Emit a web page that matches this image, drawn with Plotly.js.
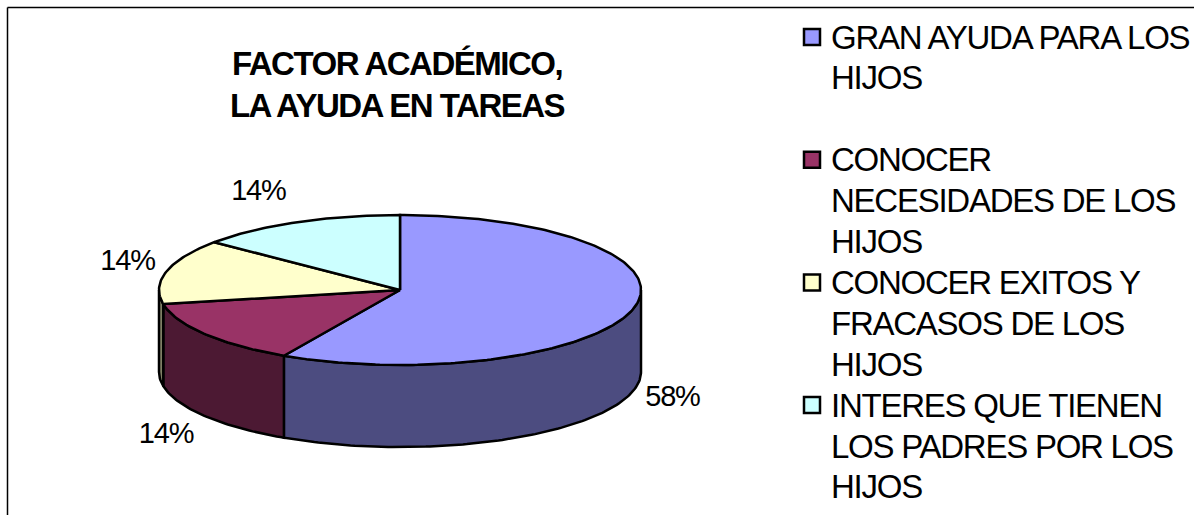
<!DOCTYPE html>
<html>
<head>
<meta charset="utf-8">
<script src="https://cdn.plot.ly/plotly-3.0.1.min.js"></script>
<style>
html,body{margin:0;padding:0;background:#fff;}
#chart{width:1194px;height:515px;}
#chart .annotation-text{letter-spacing:-1.25px;}
#chart .gtitle{letter-spacing:-1.5px;}
#chart .textpoint text{letter-spacing:-1.2px;}
</style>
</head>
<body>
<div id="chart"></div>
<script>
// ---- data ----
const categories = [
  "GRAN AYUDA PARA LOS<br>HIJOS",
  "CONOCER<br>NECESIDADES DE LOS<br>HIJOS",
  "CONOCER EXITOS Y<br>FRACASOS DE LOS<br>HIJOS",
  "INTERES QUE TIENEN<br>LOS PADRES POR LOS<br>HIJOS"
];
const values = [58, 14, 14, 14];
const topColors = ["#9999FF", "#993366", "#FFFFCC", "#CCFFFF"];
const sideColors = ["#4C4C80", "#4C1933", "#808066", "#668080"];
const chartTitle = "FACTOR ACADÉMICO,<br>LA AYUDA EN TAREAS";

// ---- geometry (layout) ----
const W = 1194, H = 515;
const cx = 400, cy = 290, rx = 241, ry = 75, depth = 82;
const FONT = "Liberation Sans, Arial, sans-serif";

function pt(t, dz) { return [cx + rx * Math.sin(t), cy - ry * Math.cos(t) + (dz || 0)]; }
function arc(a, b, dz) {
  const n = Math.max(2, Math.ceil((b - a) / (Math.PI / 180)));
  const xs = [], ys = [];
  for (let i = 0; i <= n; i++) { const p = pt(a + (b - a) * i / n, dz); xs.push(p[0]); ys.push(p[1]); }
  return [xs, ys];
}

const total = values.reduce((s, v) => s + v, 0);
const angles = [];
let acc = 0;
values.forEach(v => { const a = acc / total * 2 * Math.PI; acc += v; angles.push([a, acc / total * 2 * Math.PI]); });

const traces = [];
// side walls (front half only)
angles.forEach(([a, b], i) => {
  const s = Math.max(a, Math.PI / 2), e = Math.min(b, 3 * Math.PI / 2);
  if (e <= s) return;
  const [tx, ty] = arc(s, e, 0);
  const [bx, by] = arc(s, e, depth);
  const xs = tx.concat(bx.slice().reverse(), [tx[0]]);
  const ys = ty.concat(by.slice().reverse(), [ty[0]]);
  traces.push({ type: "scatter", mode: "lines", x: xs, y: ys, fill: "toself", fillcolor: sideColors[i],
    line: { color: "#000", width: 2.5 }, hoverinfo: "skip", showlegend: false });
});
// top faces
angles.forEach(([a, b], i) => {
  const [ax, ay] = arc(a, b, 0);
  const xs = [cx].concat(ax, [cx]);
  const ys = [cy].concat(ay, [cy]);
  traces.push({ type: "scatter", mode: "lines", x: xs, y: ys, fill: "toself", fillcolor: topColors[i],
    line: { color: "#000", width: 2.5 }, hoverinfo: "skip", showlegend: false, name: categories[i] });
});
// percent labels, placed just outside the rim at each slice's mid angle
const lx = [], ly = [], lt = [];
angles.forEach(([a, b], i) => {
  const m = (a + b) / 2;
  const front = Math.cos(m) < 0;
  const rim = pt(m, front ? depth : 0);
  lx.push(rim[0] + 39 * Math.sign(Math.sin(m)));
  ly.push(rim[1] - 33 * Math.cos(m));
  lt.push(Math.round(values[i] / total * 100) + "%");
});
traces.push({ type: "scatter", mode: "text", x: lx, y: ly, text: lt, textposition: "middle center",
  textfont: { family: FONT, size: 29, color: "#000" }, hoverinfo: "skip", showlegend: false });

// legend (manual, to reproduce the layout)
const legX = 812, textX = 829, line0 = 37, lineStep = 40.9;
const annotations = [];
const mx = [], my = [];
let k = 0;
categories.forEach((c, i) => {
  const lines = c.split("<br>");
  mx.push(legX); my.push(line0 + lineStep * k);
  lines.forEach(l => {
    annotations.push({ xref: "x", yref: "y", x: textX, y: line0 + lineStep * k, text: l, showarrow: false,
      xanchor: "left", yanchor: "middle", align: "left", font: { family: FONT, size: 33, color: "#000" } });
    k++;
  });
  if (i === 0) k++;
});
traces.push({ type: "scatter", mode: "markers", x: mx, y: my, hoverinfo: "skip", showlegend: false,
  marker: { symbol: "square", size: 16, color: topColors, line: { color: "#000", width: 2.5 } } });

const layout = {
  width: W, height: H,
  margin: { l: 0, r: 0, t: 0, b: 0, pad: 0 },
  paper_bgcolor: "#fff", plot_bgcolor: "#fff",
  showlegend: false,
  title: { text: chartTitle, x: 397 / W, xanchor: "center", xref: "paper", y: 1 - 74.5 / H, yanchor: "middle", yref: "container",
    font: { family: FONT, size: 33, color: "#000", weight: "bold" } },
  xaxis: { range: [0, W], visible: false, fixedrange: true },
  yaxis: { range: [H, 0], visible: false, fixedrange: true },
  annotations: annotations,
  shapes: [
    { type: "line", xref: "x", yref: "y", x0: 7.5, y0: H + 5, x1: 7.5, y1: 7.5, line: { color: "#000", width: 1.5 } },
    { type: "line", xref: "x", yref: "y", x0: 7.5, y0: 7.5, x1: W + 5, y1: 7.5, line: { color: "#000", width: 1.5 } }
  ]
};

Plotly.newPlot("chart", traces, layout, { staticPlot: true, displayModeBar: false });
</script>
</body>
</html>
